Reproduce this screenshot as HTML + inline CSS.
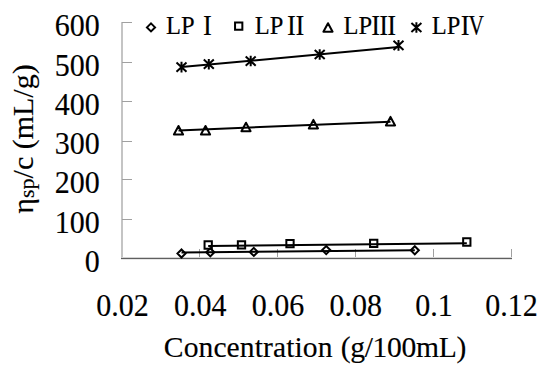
<!DOCTYPE html>
<html><head><meta charset="utf-8">
<style>
html,body{margin:0;padding:0;background:#fff;width:550px;height:381px;overflow:hidden}
svg{display:block}
text{font-family:"Liberation Serif",serif;fill:#000;stroke:#000;stroke-width:0.15px}
</style></head>
<body>
<svg width="550" height="381" viewBox="0 0 550 381">
<defs>
<path id="dia" d="M0,-4.05 L4.05,0 L0,4.05 L-4.05,0 Z" fill="none" stroke="#000" stroke-width="2"/>
<path id="sq" d="M-3.65,-3.65 H3.65 V3.65 H-3.65 Z" fill="none" stroke="#000" stroke-width="2"/>
<path id="tri" d="M0,-4.3 L4.6,4.2 L-4.6,4.2 Z" fill="none" stroke="#000" stroke-width="2" stroke-linejoin="round"/>
<path id="ast" d="M-5,-4.6 L5,4.6 M5,-4.6 L-5,4.6 M0,-5.3 V5.3" fill="none" stroke="#000" stroke-width="2"/>
</defs>
<rect width="550" height="381" fill="#fff"/>

<!-- axes -->
<g shape-rendering="crispEdges">
<rect x="121" y="22" width="2" height="237" fill="#c4c4c4"/>
<g fill="#a0a0a0">
<rect x="122" y="22" width="10" height="1"/>
<rect x="122" y="62" width="10" height="1"/>
<rect x="122" y="101" width="10" height="1"/>
<rect x="122" y="141" width="10" height="1"/>
<rect x="122" y="179" width="10" height="1"/>
<rect x="122" y="219" width="10" height="1"/>
<rect x="199" y="249" width="1" height="9"/>
<rect x="277" y="249" width="1" height="9"/>
<rect x="355" y="249" width="1" height="9"/>
<rect x="433" y="249" width="1" height="9"/>
<rect x="511" y="249" width="1" height="9"/>
</g>
<rect x="122" y="257" width="390" height="1" fill="#d4d4d4"/>
<rect x="121" y="258" width="391" height="1" fill="#5f5f5f"/>
<rect x="121" y="259" width="391" height="1" fill="#e6e6e6"/>
</g>

<!-- y tick labels -->
<g font-size="30" text-anchor="end">
<text transform="translate(99.7,35.8) scale(1,1.05)">600</text>
<text transform="translate(99.7,75.8) scale(1,1.05)">500</text>
<text transform="translate(99.7,115.1) scale(1,1.05)">400</text>
<text transform="translate(99.7,154.4) scale(1,1.05)">300</text>
<text transform="translate(99.7,192.9) scale(1,1.05)">200</text>
<text transform="translate(99.7,233.0) scale(1,1.05)">100</text>
<text transform="translate(99.7,272.3) scale(1,1.05)">0</text>
</g>
<!-- x tick labels -->
<g font-size="30" text-anchor="middle">
<text transform="translate(122.4,316.1) scale(1,1.05)">0.02</text>
<text transform="translate(200.2,316.1) scale(1,1.05)">0.04</text>
<text transform="translate(278.0,316.1) scale(1,1.05)">0.06</text>
<text transform="translate(355.8,316.1) scale(1,1.05)">0.08</text>
<text transform="translate(434.0,316.1) scale(1,1.05)">0.1</text>
<text transform="translate(511.4,316.1) scale(1,1.05)">0.12</text>
</g>
<!-- x title -->
<text x="163.8" y="356.5" font-size="29.6" textLength="168.7" lengthAdjust="spacing">Concentration</text>
<text x="340.7" y="356.5" font-size="29.6" textLength="125.6" lengthAdjust="spacing">(g/100mL)</text>
<!-- y title -->
<text transform="translate(32.6,139) rotate(-90)" font-size="30" text-anchor="middle">η<tspan font-size="22" dy="1">sp</tspan><tspan dy="-1">/c (mL/g)</tspan></text>

<!-- trend lines -->
<g stroke="#000" stroke-width="2" fill="none">
<line x1="181.5" y1="67.1" x2="398.5" y2="47.1"/>
<line x1="178.5" y1="130.4" x2="390.5" y2="121.7"/>
<line x1="208.2" y1="246.0" x2="466.8" y2="243.2"/>
<line x1="181.5" y1="252.4" x2="414.8" y2="250.3"/>
</g>

<!-- LP I diamonds -->
<use href="#dia" x="181.5" y="253.5"/>
<use href="#dia" x="210.3" y="252.3"/>
<use href="#dia" x="253.8" y="251.9"/>
<use href="#dia" x="326.2" y="250.1"/>
<use href="#dia" x="414.8" y="250.3"/>
<!-- LP II squares -->
<use href="#sq" x="208.2" y="245"/>
<use href="#sq" x="241.5" y="244.8"/>
<use href="#sq" x="290" y="243.6"/>
<use href="#sq" x="373.7" y="243.3"/>
<use href="#sq" x="466.8" y="242"/>
<!-- LP III triangles -->
<use href="#tri" x="178.5" y="130.3"/>
<use href="#tri" x="205.5" y="130.3"/>
<use href="#tri" x="246" y="127"/>
<use href="#tri" x="313.4" y="124.2"/>
<use href="#tri" x="390.5" y="121.2"/>
<!-- LP IV asterisks -->
<use href="#ast" x="181.5" y="67.1"/>
<use href="#ast" x="208.8" y="64.2"/>
<use href="#ast" x="250.7" y="61.05"/>
<use href="#ast" x="319.7" y="54.5"/>
<use href="#ast" x="398.5" y="45.4"/>

<!-- legend -->
<use href="#dia" x="151" y="27.4"/>
<use href="#sq" x="238.7" y="26.2"/>
<use href="#tri" x="328" y="27.5"/>
<use href="#ast" x="416.4" y="27.5"/>
<g font-size="24.5">
<text x="166" y="33.7">LP</text>
<text x="254.8" y="33.7">LP</text>
<text x="343.6" y="33.7">LP</text>
<text x="431.8" y="33.7">LP</text>
</g>
<!-- roman numerals -->
<g font-size="29.5">
<text transform="translate(202.9,35.3) scale(0.9,1)">I</text>
<text transform="translate(287.1,35.3) scale(0.9,1)" letter-spacing="-0.6">II</text>
<text transform="translate(371.3,35.3) scale(0.9,1)" letter-spacing="-0.93">III</text>
<text transform="translate(460.8,35.3) scale(0.9,1)">I</text>
<text transform="translate(468.5,35.3) scale(0.73,1)">V</text>
</g>
</svg>
</body></html>
